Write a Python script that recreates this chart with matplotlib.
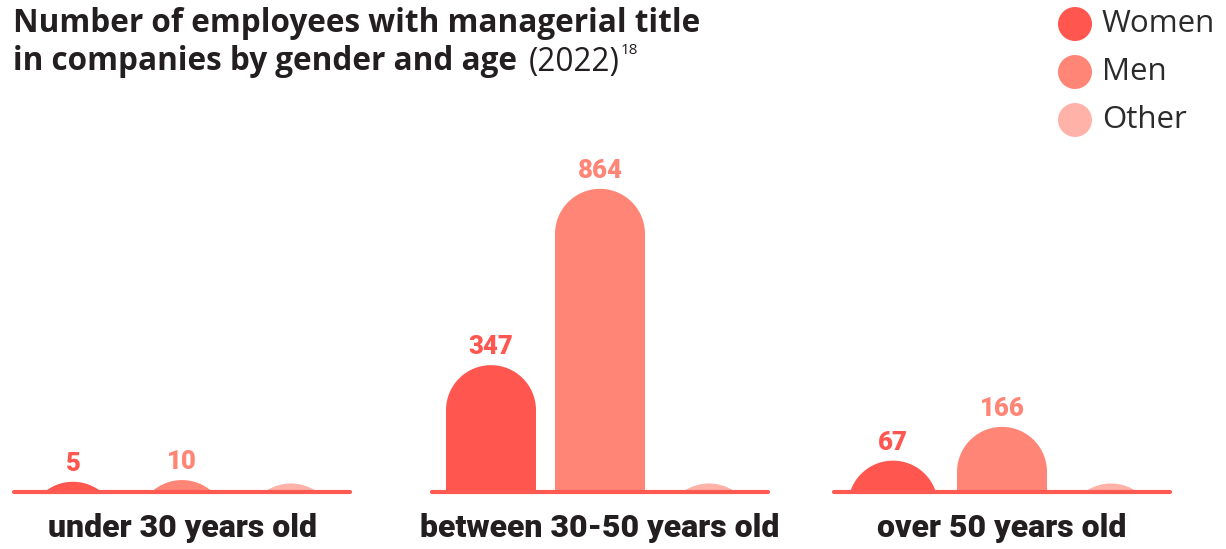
import numpy as np
import matplotlib
matplotlib.use("Agg")
import matplotlib.pyplot as plt
from matplotlib.patches import Polygon, Circle

# Managers by gender and age group (2022)
CATEGORIES = ["under 30 years old", "between 30-50 years old", "over 50 years old"]
SERIES = ["Women", "Men", "Other"]
WOMEN = [5, 347, 67]
MEN = [10, 864, 166]
OTHER = [0, 0, 0]
SHOW_LABEL = [True, True, False]

COLORS = ["#FF5750", "#FF8577", "#FFB2A8"]
LINE_COLOR = "#FF5A52"
TEXT_DARK = "#231F20"

# canvas is laid out in pixel units, y pointing up
W, H = 1226, 549
BASE_Y = 57.0
GROUP_X = [182, 600, 1002]
BAR_STEP = 109
BAR_R = 45
SCALE = 0.341   # px per employee
PAD = 25        # keeps empty bars visible as a small cap

fig = plt.figure(figsize=(W / 100, H / 100), dpi=100)
ax = fig.add_axes([0, 0, 1, 1])
ax.set_xlim(0, W)
ax.set_ylim(0, H)
ax.set_aspect("equal")
ax.axis("off")


def pill(cx, top, r, base):
    """Rounded-top bar cut off at the baseline."""
    cy = top - r
    t = np.linspace(0, np.pi, 80)
    xs = cx + r * np.cos(t)
    ys = np.maximum(cy + r * np.sin(t), base)
    pts = list(zip(xs, ys)) + [(cx - r, base), (cx + r, base)]
    return Polygon(pts, closed=True)


values = [WOMEN, MEN, OTHER]
for g, gx in enumerate(GROUP_X):
    ax.plot([gx - 168, gx + 168], [BASE_Y, BASE_Y], color=LINE_COLOR,
            lw=3, solid_capstyle="round", zorder=3)
    for s in range(3):
        v = values[s][g]
        cx = gx + (s - 1) * BAR_STEP
        top = BASE_Y + (v + PAD) * SCALE
        p = pill(cx, top, BAR_R, BASE_Y)
        p.set_facecolor(COLORS[s])
        p.set_edgecolor("none")
        ax.add_patch(p)
        if SHOW_LABEL[s]:
            ax.text(cx, top + 11, f"{v}", ha="center", va="baseline",
                    fontsize=18.5, fontweight="heavy", family="Roboto",
                    color=COLORS[s])
    ax.text(gx, H - 528, CATEGORIES[g], ha="center", va="center",
            fontsize=23, fontweight="heavy", family="Roboto", color=TEXT_DARK)

# title
title_kw = dict(ha="left", va="center", fontsize=22.7, family="Open Sans",
                color=TEXT_DARK)
ax.text(13, H - 23, "Number of employees with managerial title",
        fontweight="bold", **title_kw)
t2 = ax.text(13, H - 62, "in companies by gender and age",
             fontweight="bold", **title_kw)
fig.canvas.draw()
bb = t2.get_window_extent()
t3 = ax.text(bb.x1 + 12, H - 62, "(2022)", **title_kw)
bb3 = t3.get_window_extent()
ax.text(bb3.x1 + 1, H - 51, "18", ha="left", va="center",
        fontsize=11, family="Open Sans", color=TEXT_DARK)

# legend
for i, name in enumerate(SERIES):
    y = H - 24 - i * 48
    ax.add_patch(Circle((1075, y), 17, facecolor=COLORS[i], edgecolor="none"))
    ax.text(1102, y, name, ha="left", va="center", fontsize=22.5,
            family="Open Sans", color="#2B2B2B")

fig.savefig("out.png", dpi=100, facecolor="white")
